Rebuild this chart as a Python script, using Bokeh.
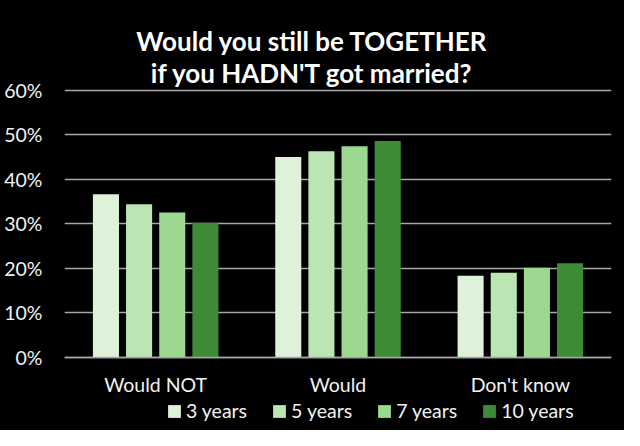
from bokeh.plotting import figure
from bokeh.models import (ColumnDataSource, FactorRange, Range1d, FixedTicker,
                          NumeralTickFormatter, Label, Legend, LegendItem)
from bokeh.transform import dodge
from bokeh.embed import file_html
from bokeh.resources import INLINE

categories = ["Would NOT", "Would", "Don't know"]
series = ["3 years", "5 years", "7 years", "10 years"]
y_3 = [0.366, 0.450, 0.183]
y_5 = [0.344, 0.463, 0.190]
y_7 = [0.325, 0.474, 0.201]
y_10 = [0.302, 0.486, 0.211]
colors = ["#DDF2D8", "#BBE5B3", "#9CD88F", "#3D8B37"]
y_ticks = [0.0, 0.1, 0.2, 0.3, 0.4, 0.5, 0.6]
title_lines = ["Would you still be TOGETHER", "if you HADN'T got married?"]

FONT = "Lato"
TXT = "#f2f2f2"
GRID = "#a6a6a6"

source = ColumnDataSource(data=dict(cat=categories, y_3=y_3, y_5=y_5, y_7=y_7, y_10=y_10))

# frame spans the whole height; y=0 sits at 356.7px, y=0.6 at 89.7px
p = figure(width=624, height=430,
           x_range=FactorRange(*categories, range_padding=0),
           y_range=Range1d(-0.1647, 0.8016),
           output_backend="svg", toolbar_location=None,
           min_border_left=64, min_border_right=13,
           min_border_top=0, min_border_bottom=0,
           background_fill_color="black", border_fill_color="black",
           outline_line_color=None,
           styles={"background-color": "black"})

cols = ["y_3", "y_5", "y_7", "y_10"]
offsets = [-0.2727, -0.0909, 0.0909, 0.2727]
renderers = []
for col, off, c in zip(cols, offsets, colors):
    r = p.vbar(x=dodge("cat", off, range=p.x_range), top=col, bottom=0, width=0.143,
               source=source, fill_color=c, line_color=None)
    renderers.append(r)

# y axis
p.yaxis.ticker = FixedTicker(ticks=y_ticks)
p.yaxis.formatter = NumeralTickFormatter(format="0%")
p.yaxis.axis_line_color = None
p.yaxis.major_tick_line_color = None
p.yaxis.minor_tick_line_color = None
p.yaxis.major_tick_out = 0
p.yaxis.major_tick_in = 0
p.yaxis.major_label_standoff = 22
p.yaxis.major_label_text_font = FONT
p.yaxis.major_label_text_font_size = "19.5px"
p.yaxis.major_label_text_color = TXT

# x axis pinned at y=0
p.xaxis.fixed_location = 0
p.xaxis.axis_line_color = GRID
p.xaxis.axis_line_width = 1.5
p.xaxis.major_tick_line_color = None
p.xaxis.minor_tick_line_color = None
p.xaxis.major_tick_out = 0
p.xaxis.major_tick_in = 0
p.xaxis.major_label_standoff = 16
p.xaxis.major_label_text_font = FONT
p.xaxis.major_label_text_font_size = "19.5px"
p.xaxis.major_label_text_color = TXT

p.xgrid.grid_line_color = None
p.ygrid.ticker = FixedTicker(ticks=y_ticks)
p.ygrid.grid_line_color = GRID
p.ygrid.grid_line_width = 1.5

for txt, yy in zip(title_lines, [0.7112, 0.6391]):
    p.add_layout(Label(x=1.358, y=yy, text=txt, text_align="center",
                       text_baseline="alphabetic", text_font=FONT,
                       text_font_style="bold", text_font_size="26px",
                       text_color="white"))

legend = Legend(items=[LegendItem(label=s, renderers=[r]) for s, r in zip(series, renderers)],
                orientation="horizontal", location=(102, 8),
                glyph_width=16, glyph_height=16, label_standoff=4, spacing=24,
                padding=0, margin=0, border_line_color=None,
                background_fill_alpha=0,
                label_text_font=FONT, label_text_font_size="19.5px",
                label_text_color=TXT)
p.add_layout(legend, "center")

open("out.html", "w").write(file_html(p, INLINE))
